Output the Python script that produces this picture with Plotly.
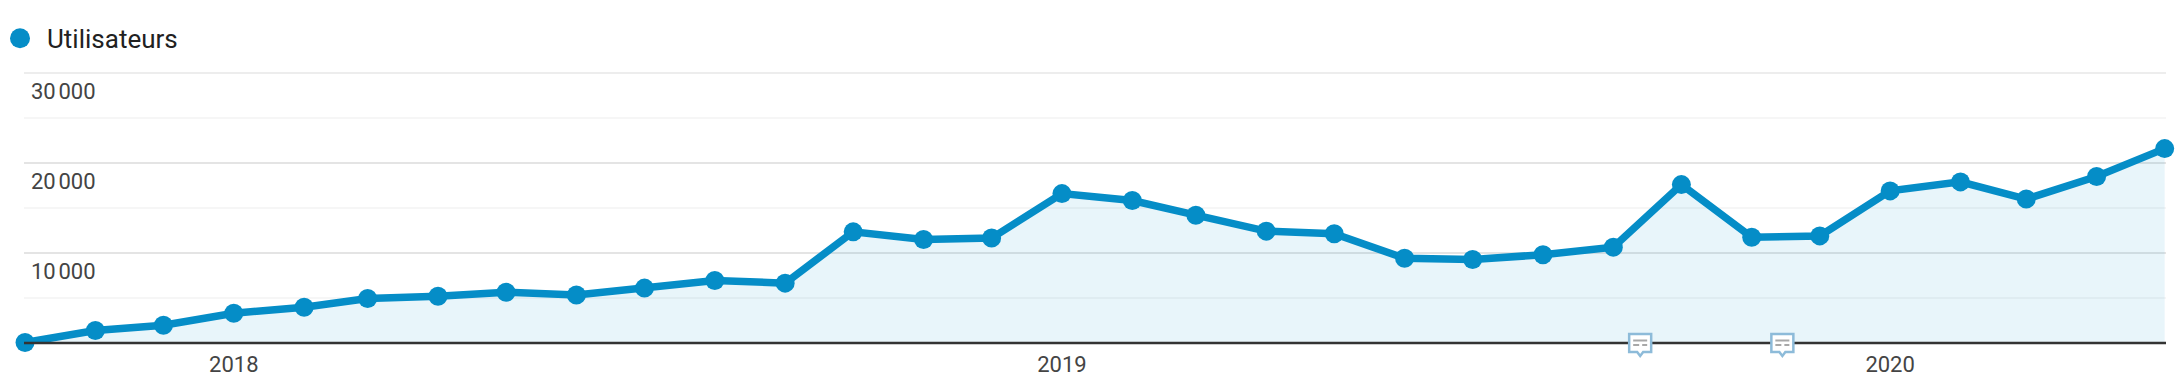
import plotly.graph_objects as go

months = ["2017-10-01","2017-11-01","2017-12-01","2018-01-01","2018-02-01","2018-03-01","2018-04-01","2018-05-01",
          "2018-06-01","2018-07-01","2018-08-01","2018-09-01","2018-10-01","2018-11-01","2018-12-01","2019-01-01",
          "2019-02-01","2019-03-01","2019-04-01","2019-05-01","2019-06-01","2019-07-01","2019-08-01","2019-09-01",
          "2019-10-01","2019-11-01","2019-12-01","2020-01-01","2020-02-01","2020-03-01","2020-04-01","2020-05-01"]
users = [50,1390,1980,3310,3980,4940,5200,5640,5330,6100,6950,6650,12350,11500,11660,16600,
         15830,14200,12430,12130,9420,9270,9810,10650,17600,11740,11900,16900,17900,15990,18500,21600]
note_dates = ["2019-09-12 20:00","2019-11-14 12:00"]
y_major = [10000,20000,30000]
y_labels = ["10\u202f000","20\u202f000","30\u202f000"]
x_ticks = ["2018-01-01","2019-01-01","2020-01-01"]
x_labels = ["2018","2019","2020"]
BLUE = "#058dc7"

fig = go.Figure()
fig.add_trace(go.Scatter(x=months, y=users, mode="lines+markers", name="Utilisateurs",
    line=dict(color=BLUE, width=7.5), marker=dict(color=BLUE, size=19),
    fill="tozeroy", fillcolor="rgba(5,141,199,0.09)", cliponaxis=False, showlegend=False, hoverinfo="x+y"))

shapes = [dict(type="line", xref="x domain", yref="paper", x0=0, x1=1, y0=0, y1=0, line=dict(color="#333333", width=2.5), layer="above"),
          dict(type="line", xref="x domain", yref="paper", x0=0, x1=1, y0=1, y1=1, line=dict(color="rgba(0,0,0,0.07)", width=2), layer="below")]
for d in note_dates:
    shapes.append(dict(type="path", xref="x", yref="paper", xsizemode="pixel", ysizemode="pixel", xanchor=d, yanchor=0,
        path="M-11,9 L11,9 L11,-9 L3,-9 L0,-13 L-3,-9 L-11,-9 Z",
        fillcolor="#ffffff", line=dict(color="#8dbbd9", width=2.5), layer="above"))
    for (a,b,h) in [(-7,7,2.5),(-7,-1,-2),(2,7,-2)]:
        shapes.append(dict(type="line", xref="x", yref="paper", xsizemode="pixel", ysizemode="pixel", xanchor=d, yanchor=0,
            x0=a, x1=b, y0=h, y1=h, line=dict(color="#a8a8a8", width=2), layer="above"))
shapes.append(dict(type="circle", xref="x domain", yref="paper", xsizemode="pixel", ysizemode="pixel", xanchor=0, yanchor=1,
    x0=-14, x1=6, y0=24.8, y1=44.8, fillcolor=BLUE, line=dict(width=0)))

annotations = [dict(xref="x domain", yref="y", x=0, xanchor="left", yanchor="middle", xshift=4.5, y=v, yshift=-18, text=t, showarrow=False,
                    font=dict(family="Roboto, Arial", size=22, color="#444444")) for v,t in zip(y_major,y_labels)]
annotations.append(dict(xref="paper", yref="paper", x=0, y=1, xshift=21, yshift=34.5, showarrow=False, xanchor="left", yanchor="middle",
    text="Utilisateurs", font=dict(family="Roboto, Arial", size=26, color="#212121")))

fig.update_layout(width=2178, height=378, margin=dict(l=24, r=12, t=73, b=35, pad=0, autoexpand=False), plot_bgcolor="white", paper_bgcolor="white",
    shapes=shapes, annotations=annotations, hovermode="closest",
    xaxis=dict(type="date", range=["2017-09-30 13:00","2020-05-01 14:00"], tickvals=x_ticks, ticktext=x_labels, showgrid=False, zeroline=False, showline=False,
               automargin=False, ticks="", ticklabelstandoff=6, tickfont=dict(family="Roboto, Arial", size=22, color="#444444")),
    yaxis=dict(range=[0,30000], tickvals=y_major, showticklabels=False, showgrid=True, gridcolor="rgba(0,0,0,0.07)", gridwidth=2,
               zeroline=False, showline=False, automargin=False,
               minor=dict(dtick=5000, tick0=0, showgrid=True, gridcolor="rgba(0,0,0,0.035)", gridwidth=2)))
fig.write_html("out.html", config={"displayModeBar": False},
               post_script="document.body.style.margin='0';document.body.style.overflow='hidden';")
